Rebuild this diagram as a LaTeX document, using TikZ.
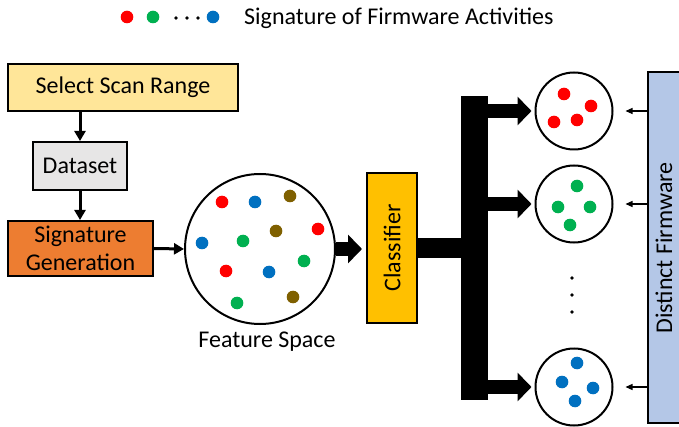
\documentclass[tikz,border=0pt]{standalone}
\usepackage{fontspec}
\setmainfont{Carlito}
\usetikzlibrary{arrows.meta}
\definecolor{cyellow}{HTML}{FFE699}
\definecolor{cgray}{HTML}{E7E6E6}
\definecolor{corange}{HTML}{ED7D31}
\definecolor{cgold}{HTML}{FFC000}
\definecolor{cblue}{HTML}{B4C7E7}
\definecolor{dred}{HTML}{FF0000}
\definecolor{dgreen}{HTML}{00B050}
\definecolor{dblue}{HTML}{0070C0}
\definecolor{dbrown}{HTML}{7F6000}
\tikzset{
  box/.style={draw=black, line width=2pt, inner sep=0pt, font=\fontsize{24}{28}\selectfont, align=center},
  bubble/.style={circle, draw=black, line width=2pt, inner sep=0pt},
  thinarrow/.style={line width=3pt, -{Triangle[width=11pt,length=10pt]}},
  smallarrow/.style={line width=1.2pt, -{Triangle[width=6pt,length=7pt]}},
  bigarrow/.style={line width=14pt, -{Triangle[width=28pt,length=14pt]}},
  lbl/.style={font=\fontsize{24}{28}\selectfont, inner sep=0pt},
}
\newcommand{\dotat}[3]{\fill[#1] (#2,#3) circle (6.3pt);}
\begin{document}
\begin{tikzpicture}[x=1pt,y=-1pt]
\clip (0,0) rectangle (679,427);
\fill[white] (0,0) rectangle (679,427);

% legend
\dotat{dred}{127}{17}
\dotat{dgreen}{153}{17}
\fill (176,18) circle (1.8pt) (187,18) circle (1.8pt) (198,18) circle (1.8pt);
\dotat{dblue}{213}{17}
\node[lbl, anchor=west] (legend) at (244,18) {Signature of Firmware Activities};

% left pipeline
\node[box, fill=cyellow, minimum width=230pt, minimum height=47pt] (ssr) at (123,87.5) {Select Scan Range};
\node[box, fill=cgray, minimum width=94pt, minimum height=48pt] (ds) at (80,166) {Dataset};
\node[box, fill=corange, minimum width=145pt, minimum height=55pt] (sg) at (80.5,248.5) {Signature\\Generation};
\draw[thinarrow] (ssr.south -| ds) -- (ds.north);
\draw[thinarrow] (ds.south) -- (ds.south |- sg.north);

% feature space
\node[bubble, minimum size=150pt] (fs) at (260,249) {};
\draw[thinarrow] (sg.east) -- (fs.west);
\dotat{dred}{222}{202}
\dotat{dblue}{255}{202}
\dotat{dbrown}{290}{196}
\dotat{dbrown}{276}{231}
\dotat{dred}{318}{229}
\dotat{dblue}{202}{243}
\dotat{dgreen}{243}{241}
\dotat{dgreen}{304}{261}
\dotat{dred}{226}{271}
\dotat{dblue}{269}{272}
\dotat{dgreen}{237}{303}
\dotat{dbrown}{293}{297}
\node[lbl] (fslabel) at (267,342) {Feature Space};

% classifier
\node[box, fill=cgold, minimum width=50pt, minimum height=150pt] (cls) at (392,248) {};
\node[rotate=90, font=\fontsize{24}{28}\selectfont, inner sep=0pt] at (cls.center) {Classifier};
\draw[bigarrow, shorten >=4pt] (fs.east) -- (fs.east -| cls.west);

% output circles
\node[bubble, minimum size=77pt] (c1) at (574,111) {};
\node[bubble, minimum size=77pt] (c2) at (574,204) {};
\node[bubble, minimum size=77pt] (c3) at (574,387) {};
\dotat{dred}{564}{94}
\dotat{dred}{591}{106}
\dotat{dred}{577}{120}
\dotat{dred}{554}{122}
\dotat{dgreen}{577}{186}
\dotat{dgreen}{558}{207}
\dotat{dgreen}{590}{207}
\dotat{dgreen}{570}{225}
\dotat{dblue}{577}{363}
\dotat{dblue}{562}{382}
\dotat{dblue}{593}{388}
\dotat{dblue}{575}{401}
\fill (572,278) circle (1.8pt) (572,295) circle (1.8pt) (572,312) circle (1.8pt);

% branching connector
\coordinate (bx) at (487,0);
\fill (cls.east) ++(0,-10) rectangle (462,258);
\fill (461,96) rectangle (488,400);
\draw[bigarrow, shorten >=3pt] (bx |- c1) -- (c1.west);
\draw[bigarrow, shorten >=3pt] (bx |- c2) -- (c2.west);
\draw[bigarrow, shorten >=3pt] (bx |- c3) -- (c3.west);

% distinct firmware
\node[box, fill=cblue, minimum width=36pt, minimum height=351pt] (df) at (666,247.5) {};
\node[rotate=90, font=\fontsize{24}{28}\selectfont, inner sep=0pt] at (664,248) {Distinct Firmware};
\draw[smallarrow] (df.west |- c1) -- ([xshift=12pt]c1.east);
\draw[smallarrow] (df.west |- c2) -- ([xshift=12pt]c2.east);
\draw[smallarrow] (df.west |- c3) -- ([xshift=12pt]c3.east);
\end{tikzpicture}
\end{document}
